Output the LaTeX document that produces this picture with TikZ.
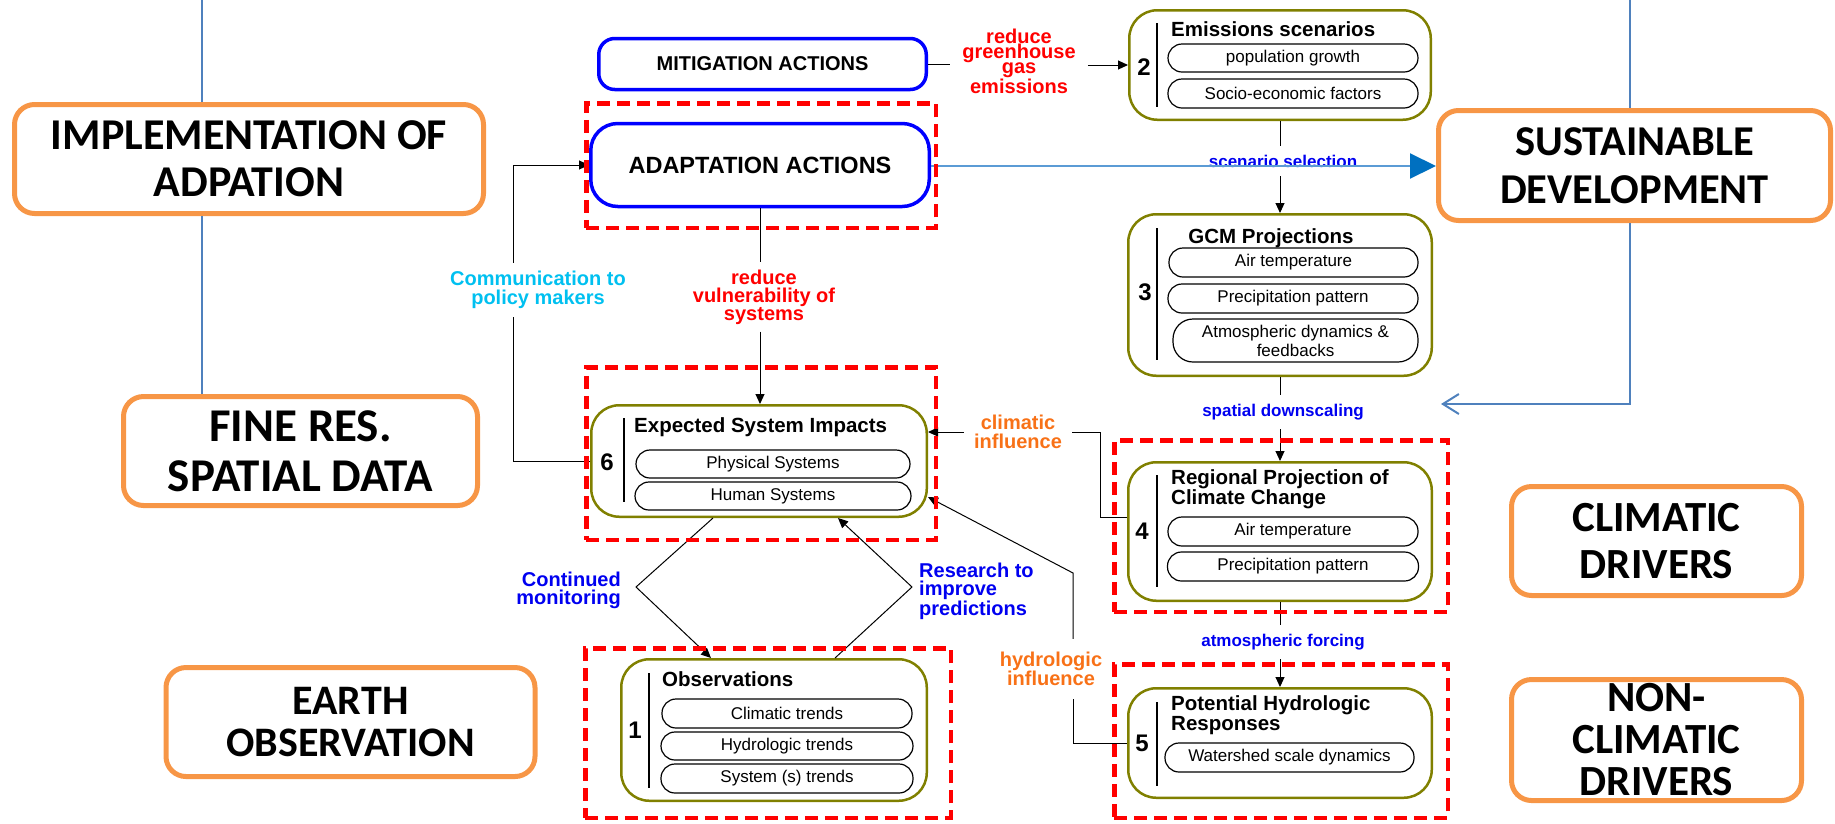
\documentclass[tikz,border=0pt]{standalone}
\usepackage{fontspec}
\setmainfont{Liberation Sans}
\newfontfamily\carl{Carlito}
\usetikzlibrary{arrows.meta}
\definecolor{obord}{HTML}{F79646}
\definecolor{olivec}{HTML}{808000}
\definecolor{bboxc}{HTML}{0000FF}
\definecolor{lbluec}{HTML}{4F81BD}
\definecolor{lblue2}{HTML}{5B9BD5}
\definecolor{arrbluec}{HTML}{0070C0}
\definecolor{cyanl}{HTML}{00C0F0}
\definecolor{orl}{HTML}{F87117}
\definecolor{bll}{HTML}{0000F0}
\newcommand\fs[2]{\fontsize{#1}{#2}\selectfont}
\begin{document}
\begin{tikzpicture}[x=1pt,y=-1pt,
  obox/.style={draw=obord, line width=5pt, rounded corners=20pt, align=center, inner sep=0pt},
  bluebox/.style={draw=bboxc, line width=3.5pt, align=center, inner sep=0pt},
  olbox/.style={draw=olivec, line width=2.5pt, rounded corners=28pt, inner sep=0pt},
  reddash/.style={draw=red, line width=4.5pt, dash pattern=on 13pt off 7pt, inner sep=0pt},
  pill/.style={draw=black, line width=1.2pt, rounded corners=14pt, inner sep=0pt, font=\fs{17}{19}, align=center},
  num/.style={font=\bfseries\fs{24}{24}, inner sep=0pt},
  ttl/.style={font=\bfseries\fs{20.5}{18}, inner sep=0pt, align=left},
  lbl/.style={font=\bfseries\fs{20}{18}, align=center, inner xsep=10pt, inner ysep=6pt},
  slbl/.style={font=\bfseries\fs{17}{18}, align=center, inner xsep=4pt, inner ysep=9pt, text=bll},
  conn/.style={draw=black, line width=1pt},
  arr/.style={conn, -{Triangle[length=10pt,width=9pt]}},
  vl/.style={draw=black, line width=1.5pt},
  bline/.style={draw=lbluec, line width=2pt}
]
\useasboundingbox (0,0) rectangle (1835,823);

% ---------- orange boxes ----------
\node[obox, minimum width=469pt, minimum height=109pt, font=\carl\bfseries\fs{44}{47}] (impl) at (249,159) {IMPLEMENTATION OF\\ADPATION};
\node[obox, minimum width=354pt, minimum height=109pt, font=\carl\bfseries\fs{47}{50}] (fine) at (300.5,451) {FINE RES.\\SPATIAL DATA};
\node[obox, minimum width=369pt, minimum height=109pt, font=\carl\bfseries\fs{42}{42}] (earth) at (350.5,722) {EARTH\\OBSERVATION};
\node[obox, minimum width=392pt, minimum height=110pt, font=\carl\bfseries\fs{42.5}{48}] (sust) at (1634.5,165.5) {SUSTAINABLE\\DEVELOPMENT};
\node[obox, minimum width=290pt, minimum height=109pt, font=\carl\bfseries\fs{43}{47}] (clim) at (1656.5,541) {CLIMATIC\\DRIVERS};
\node[obox, minimum width=290pt, minimum height=121pt, font=\carl\bfseries\fs{43}{42}] (nonclim) at (1656.5,740) {NON-\\CLIMATIC\\DRIVERS};

% blue side lines
\coordinate (ltop) at (202,0);
\coordinate (rtop) at (1630,0);
\coordinate (dsarr) at (1441,404);
\draw[bline] (ltop) -- (ltop |- impl.north);
\draw[bline] (ltop |- impl.south) -- (ltop |- fine.north);
\draw[bline] (rtop) -- (rtop |- sust.north);
\draw[bline, -{Straight Barb[length=16pt,width=20pt]}] (rtop |- sust.south) -- (rtop |- dsarr) -- (dsarr);

% ---------- action boxes ----------
\node[bluebox, rounded corners=16pt, minimum width=327.5pt, minimum height=51pt, font=\bfseries\fs{20}{20}] (mit) at (762.5,64) {MITIGATION ACTIONS};
\node[bluebox, rounded corners=27pt, minimum width=338.5pt, minimum height=83pt, font=\bfseries\fs{23.5}{24}] (adapt) at (760,165) {ADAPTATION ACTIONS};

% ---------- box 2 ----------
\node[olbox, minimum width=301.5pt, minimum height=109.5pt] (em) at (1280,65) {};
\node[num] (n2) at (1144,67) {2};
\draw[vl] (1157,23) -- (1157,107);
\node[ttl, anchor=base west] (t2) at (1171,36.5) {Emissions scenarios};
\node[pill, minimum width=250pt, minimum height=28pt] (p21) at (1293,58) {population growth};
\node[pill, minimum width=250pt, minimum height=29pt] (p22) at (1293,93.5) {Socio-economic factors};

% ---------- box 3 ----------
\node[olbox, minimum width=303.5pt, minimum height=161.5pt] (gcm) at (1280,295) {};
\node[num] (n3) at (1145,292) {3};
\draw[vl] (1157,228) -- (1157,360);
\node[ttl, anchor=base] (t3) at (1271,243.5) {GCM Projections};
\node[pill, minimum width=249pt, minimum height=29pt] (p31) at (1293.5,262.5) {Air temperature};
\node[pill, minimum width=250pt, minimum height=29pt] (p32) at (1293,298.5) {Precipitation pattern};
\node[pill, rounded corners=20pt, minimum width=245pt, minimum height=43pt] (p33) at (1295.5,340.5) {Atmospheric dynamics \&\\feedbacks};

% ---------- box 4 ----------
\node[olbox, minimum width=303.5pt, minimum height=138.5pt] (reg) at (1280,531.5) {};
\node[num] (n4) at (1142,531) {4};
\draw[vl] (1157,475) -- (1157,587);
\node[ttl, anchor=north west] (t4) at (1171,469.5) {Regional Projection of\\Climate Change};
\node[pill, minimum width=250pt, minimum height=29pt] (p41) at (1293,531.5) {Air temperature};
\node[pill, minimum width=251pt, minimum height=29pt] (p42) at (1293,566.5) {Precipitation pattern};

% ---------- box 5 ----------
\node[olbox, minimum width=303.5pt, minimum height=109.5pt] (pot) at (1280,743) {};
\node[num] (n5) at (1142,743) {5};
\draw[vl] (1157,702) -- (1157,786);
\node[ttl, anchor=north west] (t5) at (1171,695.5) {Potential Hydrologic\\Responses};
\node[pill, minimum width=249pt, minimum height=29pt] (p51) at (1289.5,757.5) {Watershed scale dynamics};

% ---------- box 6 ----------
\node[olbox, minimum width=335.5pt, minimum height=111.5pt] (exp) at (759,461) {};
\node[num] (n6) at (607,462) {6};
\draw[vl] (624,418) -- (624,502);
\node[ttl, anchor=base west] (t6) at (634,432.5) {Expected System Impacts};
\node[pill, minimum width=274pt, minimum height=28pt] (p61) at (773,464) {Physical Systems};
\node[pill, minimum width=276pt, minimum height=28pt] (p62) at (773,496) {Human Systems};

% ---------- box 1 ----------
\node[olbox, minimum width=305.5pt, minimum height=141.5pt] (obs) at (774,730) {};
\node[num] (n1) at (635,730) {1};
\draw[vl] (649,673) -- (649,788);
\node[ttl, anchor=base west] (t1) at (662,686) {Observations};
\node[pill, minimum width=250pt, minimum height=29pt] (p11) at (787,713.5) {Climatic trends};
\node[pill, minimum width=252pt, minimum height=28pt] (p12) at (787,746) {Hydrologic trends};
\node[pill, minimum width=252pt, minimum height=29pt] (p13) at (787,778.5) {System (s) trends};

% ---------- labels ----------
\node[lbl, text=red, font=\bfseries\fs{20}{15.2}, inner xsep=12pt] (ghg) at (1019,61) {reduce\\greenhouse\\gas\\emissions};
\node[lbl, text=red, inner ysep=7pt] (vuln) at (764,297) {reduce\\vulnerability of\\systems};
\node[lbl, text=cyanl, font=\bfseries\fs{20}{19}, inner ysep=8pt] (comm) at (538,290) {Communication to\\policy makers};
\node[lbl, text=bll, align=right, anchor=east, inner sep=0pt] (cont) at (621,590) {Continued\\monitoring};
\node[lbl, text=bll, align=left, anchor=west, inner sep=0pt, font=\bfseries\fs{20}{18.5}] (res) at (919,591) {Research to\\improve\\predictions};
\node[lbl, text=orl, font=\bfseries\fs{20}{19}] (climinf) at (1018,432) {climatic\\influence};
\node[lbl, text=orl, font=\bfseries\fs{20}{19}, inner ysep=13pt] (hydinf) at (1051,669) {hydrologic\\influence};
\node[slbl] (scen) at (1283,161) {scenario selection};
\node[slbl] (downs) at (1283,412) {spatial downscaling};
\node[slbl] (atmf) at (1283,642) {atmospheric forcing};

% ---------- connectors ----------
\draw[draw=lblue2, line width=2pt, -{Triangle[length=26pt,width=25pt,color=arrbluec]}] (adapt.east |- 0,166) -- (sust.west |- 0,166);

\draw[conn] (mit.east) -- (ghg.west |- mit.east);
\draw[arr] (ghg.east |- em.west) -- (em.west);

\draw[conn] (em.south) -- (em.south |- scen.north);
\draw[arr] (gcm.north |- scen.south) -- (gcm.north);
\draw[conn] (gcm.south) -- (gcm.south |- downs.north);
\draw[arr] (reg.north |- downs.south) -- (reg.north);
\draw[conn] (reg.south) -- (reg.south |- atmf.north);
\draw[arr] (pot.north |- atmf.south) -- (pot.north);

\draw[conn] (adapt.south) -- (adapt.south |- vuln.north);
\draw[arr] (adapt.south |- vuln.south) -- (adapt.south |- exp.north);

\coordinate (commx) at (513,0);
\draw[conn] (exp.west) -| (commx |- comm.south);
\draw[arr] (commx |- comm.north) |- (adapt.west);

\coordinate (climx) at (1100,0);
\draw[conn] ([yshift=14.5pt]reg.west) -| (climx |- climinf.east) -- (climinf.east);
\draw[arr] (climinf.west) -- (exp.east |- climinf.west);

\coordinate (hydx) at (1073,0);
\coordinate (hydtop) at (1073,573);
\draw[conn] (pot.west) -| (hydx |- hydinf.south);
\draw[arr] (hydx |- hydinf.north) -- (hydtop) -- ([yshift=-36pt]exp.east);

\coordinate (cmL) at (636,587);
\coordinate (cmR) at (912,587);
\draw[arr] ([xshift=-46pt]exp.south) -- (cmL) -- ([xshift=-63pt]obs.north);
\draw[arr] ([xshift=61pt]obs.north) -- (cmR) -- ([xshift=79pt]exp.south);

% ---------- red dashed frames ----------
\node[reddash, minimum width=349.5pt, minimum height=124.5pt] (rdA) at (761,165.5) {};
\node[reddash, minimum width=349.5pt, minimum height=172.5pt] (rdE) at (761,453.5) {};
\node[reddash, minimum width=365.5pt, minimum height=169.5pt] (rdO) at (768,733) {};
\node[reddash, minimum width=333.5pt, minimum height=171.5pt] (rdR) at (1281,526) {};
\node[reddash, minimum width=333.5pt, minimum height=153.5pt] (rdP) at (1281,741) {};
\end{tikzpicture}
\end{document}
